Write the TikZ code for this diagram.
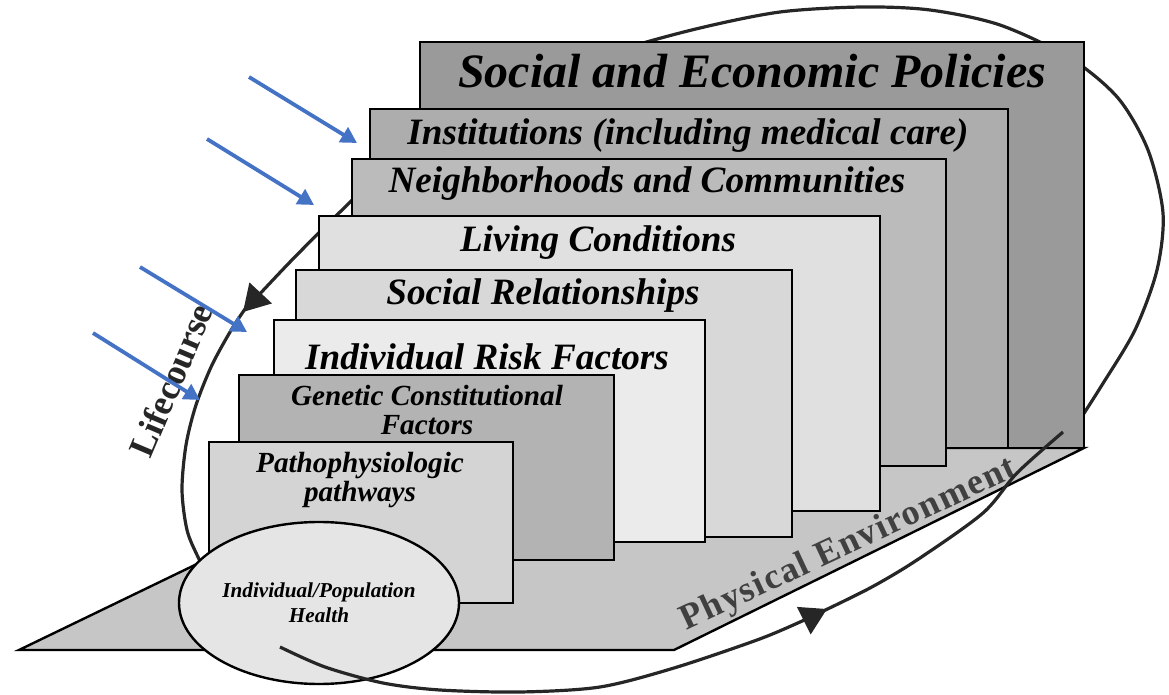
\documentclass[tikz,border=0pt]{standalone}
\usepackage{fontspec}
\setmainfont{Liberation Serif}
\usetikzlibrary{arrows.meta,shapes.geometric}

\definecolor{policygray}{HTML}{9A9A9A}
\definecolor{institgray}{HTML}{ADADAD}
\definecolor{neighgray}{HTML}{BBBBBB}
\definecolor{livinggray}{HTML}{E0E0E0}
\definecolor{relgray}{HTML}{D8D8D8}
\definecolor{riskgray}{HTML}{EBEBEB}
\definecolor{geneticgray}{HTML}{B3B3B3}
\definecolor{pathogray}{HTML}{D4D4D4}
\definecolor{floorgray}{HTML}{C6C6C6}
\definecolor{healthgray}{HTML}{E5E5E5}
\definecolor{arrowblue}{HTML}{4472C4}

\begin{document}
\begin{tikzpicture}[x=0.5pt,y=-0.5pt,
    layer/.style={draw=black,line width=1.2pt},
    layertext/.style={anchor=base,inner sep=0pt,align=center,
      font=\bfseries\itshape\fontsize{#1pt}{#1pt}\selectfont},
    course/.style={draw=black!85,line width=1.6pt},
    coursetip/.style={-{Triangle[length=13pt,width=15pt]}},
    influence/.style={draw=arrowblue,line width=1.9pt,
      -{Triangle[length=8pt,width=8.5pt]}}]
\useasboundingbox (0,0) rectangle (1169,695);

% lifecourse loop, back part
\draw[course,coursetip] plot[smooth] coordinates {
  (1070,435) (1102,385) (1135,330) (1157,270) (1163,213) (1148,150)
  (1118,98) (1070,58) (1000,25) (930,10) (862,7) (780,12) (700,28)
  (620,50) (540,80) (450,125) (390,165) (340,212) (290,262) (243,312)};
\draw[course] plot[smooth] coordinates {
  (250,302) (233,327) (212,365) (196,405) (186,445) (182,490) (187,530)
  (198,557) (215,590)};

% floor
\draw[layer,fill=floorgray] (19,650) -- (674,650) -- (1084,448) -- (437,448) -- cycle;

% layers, back to front
\draw[layer,fill=policygray] (420,42) rectangle (1084,448);
\draw[layer,fill=institgray] (370,109) rectangle (1008,448);
\draw[layer,fill=neighgray] (352,159) rectangle (946,466);
\draw[layer,fill=livinggray] (319,216) rectangle (880,511);
\draw[layer,fill=relgray] (296,270) rectangle (792,537);
\draw[layer,fill=riskgray] (274,320) rectangle (705,542);
\draw[layer,fill=geneticgray] (239,375) rectangle (614,560);
\draw[layer,fill=pathogray] (209,442) rectangle (513,603);

\node[layertext=24] (policies) at (752,88) {Social and Economic Policies};
\node[layertext=18.6] (instit) at (688,145) {Institutions (including medical care)};
\node[layertext=18.6] (neigh) at (647,193) {Neighborhoods and Communities};
\node[layertext=18.6] (living) at (598,252) {Living Conditions};
\node[layertext=18.6] (rel) at (543,305) {Social Relationships};
\node[layertext=18.6] (risk) at (487,370) {Individual Risk Factors};
\node[layertext=14.6] (genetic) at (427,435) {Genetic Constitutional\\Factors};
\node[layertext=14.6] (patho) at (360,502) {Pathophysiologic\\pathways};

\node[ellipse,layer,fill=healthgray,minimum width=140pt,minimum height=81pt,
  inner sep=0pt,align=center,font=\bfseries\itshape\fontsize{10.6pt}{12.5pt}\selectfont]
  (health) at (319,603) {Individual/Population\\Health};

\node[rotate=25,inner sep=0pt,text=black!75,
  font=\bfseries\fontsize{18pt}{18pt}\selectfont\addfontfeature{LetterSpace=4}]
  (physical) at (849,545) {Physical Environment};

% lifecourse loop, front part
\draw[course,coursetip] plot[smooth] coordinates {
  (280,647) (325,667) (383,683) (440,690) (520,692) (600,687) (674,668)
  (757,640) (800,622) (827,609)};
\draw[course] plot[smooth] coordinates {
  (815,615) (870,588) (917,560) (983,513) (1017,473) (1063,432)};

\node[rotate=67,inner sep=0pt,text=black!85,
  font=\bfseries\fontsize{18pt}{18pt}\selectfont] (lifecourse) at (171,380) {Lifecourse};

% outside influences
\coordinate (in1) at (249,77);  \coordinate (out1) at (357,143);
\coordinate (in2) at (207,139); \coordinate (out2) at (314,205);
\coordinate (in3) at (140,267); \coordinate (out3) at (247,332);
\coordinate (in4) at (93,333);  \coordinate (out4) at (200,400);
\foreach \i in {1,...,4}
  \draw[influence] (in\i) -- (out\i);
\end{tikzpicture}
\end{document}
